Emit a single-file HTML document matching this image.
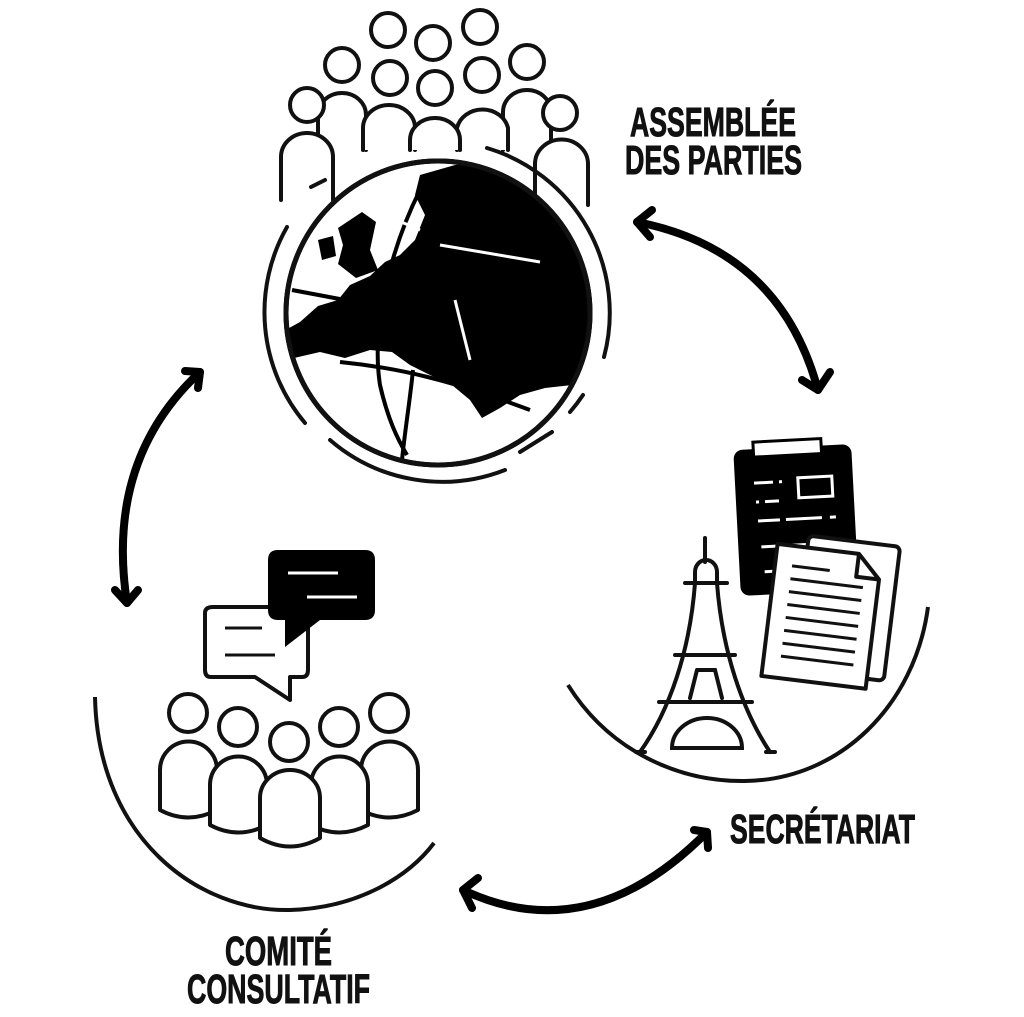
<!DOCTYPE html>
<html><head><meta charset="utf-8"><style>
html,body{margin:0;padding:0;background:#fff;}
svg{display:block;}
text{font-family:"Liberation Sans Narrow","Liberation Sans",sans-serif;font-weight:bold;fill:#111;stroke:#111;stroke-width:1;}
</style></head><body>
<svg width="1024" height="1017" viewBox="0 0 1024 1017" xmlns="http://www.w3.org/2000/svg">
<defs>
<clipPath id="gc"><circle cx="438" cy="313" r="150"/></clipPath>
</defs>
<g fill="#fff" stroke="#111" stroke-width="4" stroke-linecap="round" stroke-linejoin="round">
<circle cx="388" cy="30" r="17"/><circle cx="433" cy="43" r="17"/><circle cx="480" cy="27" r="17"/>
<circle cx="342" cy="65" r="17"/><circle cx="390" cy="78" r="17"/><circle cx="435" cy="88" r="17"/><circle cx="482" cy="75" r="17"/><circle cx="527" cy="62" r="17"/>
<path d="M318,150 V115 A24,22 0 0 1 366,115 V150"/>
<path d="M503,150 V112 A24,22 0 0 1 551,112 V150"/>
<path d="M363,150 V128 A26,23 0 0 1 415,128 V150"/>
<path d="M457,150 V128 A26,23 0 0 1 508,128 V150"/>
<path d="M410,150 V140 A25,22 0 0 1 460,140 V150"/>
<circle cx="307" cy="105" r="17"/><circle cx="560" cy="113" r="17"/>
<path d="M281,200 V157 A26,24 0 0 1 333,157 V200"/>
<path d="M535,205 V164 A26,24 0 0 1 588,164 V205"/>
</g>
<circle cx="438" cy="313" r="152" fill="#fff" stroke="#111" stroke-width="5"/>
<g clip-path="url(#gc)">
<path fill="#000" d="M420,175 L455,165 L500,160 L545,180 L580,215 L595,260 L595,320 L588,360 L572,385 L545,388 L520,395 L500,408 L482,418 L470,400 L452,385 L430,375 L410,365 L392,352 L370,350 L345,358 L320,352 L285,360 L282,332 L300,322 L318,306 L338,300 L350,285 L370,276 L385,262 L400,255 L415,240 L425,215 L415,195 Z"/>
<path fill="#000" d="M338,228 L362,212 L376,222 L370,250 L378,270 L356,278 L338,264 L343,245 Z"/>
<path fill="#000" d="M318,240 L333,236 L336,256 L322,260 Z"/>
<g fill="none" stroke="#000" stroke-width="4">
<path d="M420,190 C395,240 370,320 380,385 C388,420 398,440 407,455"/>
<path d="M413,370 C410,400 405,430 402,460"/>
<path d="M292,290 L345,300"/>
<path d="M340,362 C400,368 450,380 530,410"/>
</g>
<g fill="none" stroke="#fff" stroke-width="3">
<path d="M440,245 L540,262"/>
<path d="M385,215 L420,230"/>
<path d="M455,300 L470,360"/>
</g>
</g>
<circle cx="438" cy="313" r="152" fill="none" stroke="#111" stroke-width="5"/>
<g fill="none" stroke="#111" stroke-width="4" stroke-linecap="round">
<path d="M287,227 A172,172 0 0 0 305,423"/>
<path d="M311,187 L325,180"/>
<path d="M487,148 A172,172 0 0 1 604,357"/>
<path d="M583,395 A172,172 0 0 1 570,412"/>
<path d="M552,432 L520,452"/>
<path d="M330,440 A172,172 0 0 0 505,470"/>
</g>
<g fill="none" stroke="#000" stroke-width="8" stroke-linecap="round" stroke-linejoin="round">
<path d="M637,222 Q780,250 818,390"/>
<path d="M652,210 L637,222 L650,237"/>
<path d="M802,380 L818,390 L830,372"/>
<path d="M200,372 Q105,460 127,603"/>
<path d="M185,371 L200,372 L198,388"/>
<path d="M115,590 L127,603 L138,590"/>
<path d="M463,890 Q590,950 707,832"/>
<path d="M478,878 L463,890 L472,908"/>
<path d="M694,830 L707,832 L708,848"/>
</g>
<path d="M568,685 C610,752 680,782 745,781 C840,780 915,705 928,607" fill="none" stroke="#111" stroke-width="4"/>
<g transform="rotate(-3 796 520)">
<rect x="737" y="447" width="118" height="146" rx="9" fill="#000"/>
<rect x="757" y="440" width="68" height="15" fill="#fff" stroke="#000" stroke-width="3"/>
<g stroke="#fff" stroke-width="3" fill="none">
<rect x="800" y="478" width="34" height="20"/>
<path d="M756,481 L775,481 M781,481 L784,481 M757,500 L760,500 M766,500 L780,500 M758,519 L780,519 M786,519 L822,519 M830,519 L836,519 M760,545 L805,545 M762,570 L775,570"/>
</g>
</g>
<g transform="rotate(7 840 610)" stroke="#111" stroke-width="4" fill="#fff" stroke-linejoin="round">
<rect x="800" y="540" width="92" height="135" rx="5"/>
<path d="M770,552 L852,552 L875,575 L875,685 L770,685 Z"/>
<path d="M852,552 L852,575 L875,575" fill="none"/>
<path d="M787,572 L825,572 M787,585 L860,585 M787,598 L860,598 M787,611 L860,611 M787,624 L860,624 M787,637 L860,637 M787,650 L860,650 M787,663 L860,663" stroke-width="3"/>
</g>
<g fill="none" stroke="#111" stroke-width="4" stroke-linecap="round">
<path d="M705,538 V562"/>
<path d="M695,583 V572 A11,12 0 0 1 717,572 V583"/>
<path d="M685,583 H727"/>
<path d="M695,583 C690,650 670,710 640,752"/>
<path d="M717,583 C722,650 742,710 770,752"/>
<path d="M675,655 H735"/>
<path d="M659,702 H752"/>
<path d="M697,670 H715 L722,698 M697,670 L690,698"/>
<path d="M672,748 A35,30 0 0 1 742,748 Z"/>
<path d="M636,752 H645 M766,752 H775"/>
</g>
<path d="M95,697 C98,840 200,912 290,910 C360,908 410,875 434,843" fill="none" stroke="#111" stroke-width="4"/>
<path d="M213,607 H302 Q308,607 308,613 V670 Q308,677 302,677 H290 V700 L255,677 H211 Q205,677 205,670 V613 Q205,607 213,607 Z" fill="#fff" stroke="#111" stroke-width="4" stroke-linejoin="round"/>
<path d="M225,628 H262 M225,655 H275" stroke="#111" stroke-width="3"/>
<path d="M278,550 H365 Q375,550 375,560 V610 Q375,620 365,620 H320 L285,647 V620 H278 Q268,620 268,610 V560 Q268,550 278,550 Z" fill="#000"/>
<path d="M288,573 H338 M307,597 H357" stroke="#fff" stroke-width="3"/>
<g fill="#fff" stroke="#111" stroke-width="4" stroke-linejoin="round">
<circle cx="188" cy="713" r="19"/><circle cx="389" cy="713" r="19"/>
<circle cx="238" cy="727" r="19"/><circle cx="339" cy="727" r="19"/>
<circle cx="289" cy="742" r="19"/>
<path d="M160,810 V770 A28,28 0 0 1 217,770 V810 Q188,825 160,810 Z"/>
<path d="M361,810 V770 A28,28 0 0 1 418,770 V810 Q389,825 361,810 Z"/>
<path d="M210,825 V785 A28,28 0 0 1 267,785 V825 Q238,840 210,825 Z"/>
<path d="M311,825 V785 A28,28 0 0 1 368,785 V825 Q339,840 311,825 Z"/>
<path d="M260,838 V798 A30,28 0 0 1 320,798 V838 Q290,855 260,838 Z"/>
</g>
<text x="630" y="136" font-size="41" textLength="166" lengthAdjust="spacingAndGlyphs">ASSEMBLÉE</text>
<text x="625" y="174" font-size="41" textLength="177" lengthAdjust="spacingAndGlyphs">DES PARTIES</text>
<text x="730" y="843" font-size="41" textLength="185" lengthAdjust="spacingAndGlyphs">SECRÉTARIAT</text>
<text x="225" y="965" font-size="41" textLength="107" lengthAdjust="spacingAndGlyphs">COMITÉ</text>
<text x="187" y="1003" font-size="41" textLength="183" lengthAdjust="spacingAndGlyphs">CONSULTATIF</text>
</svg>
</body></html>
